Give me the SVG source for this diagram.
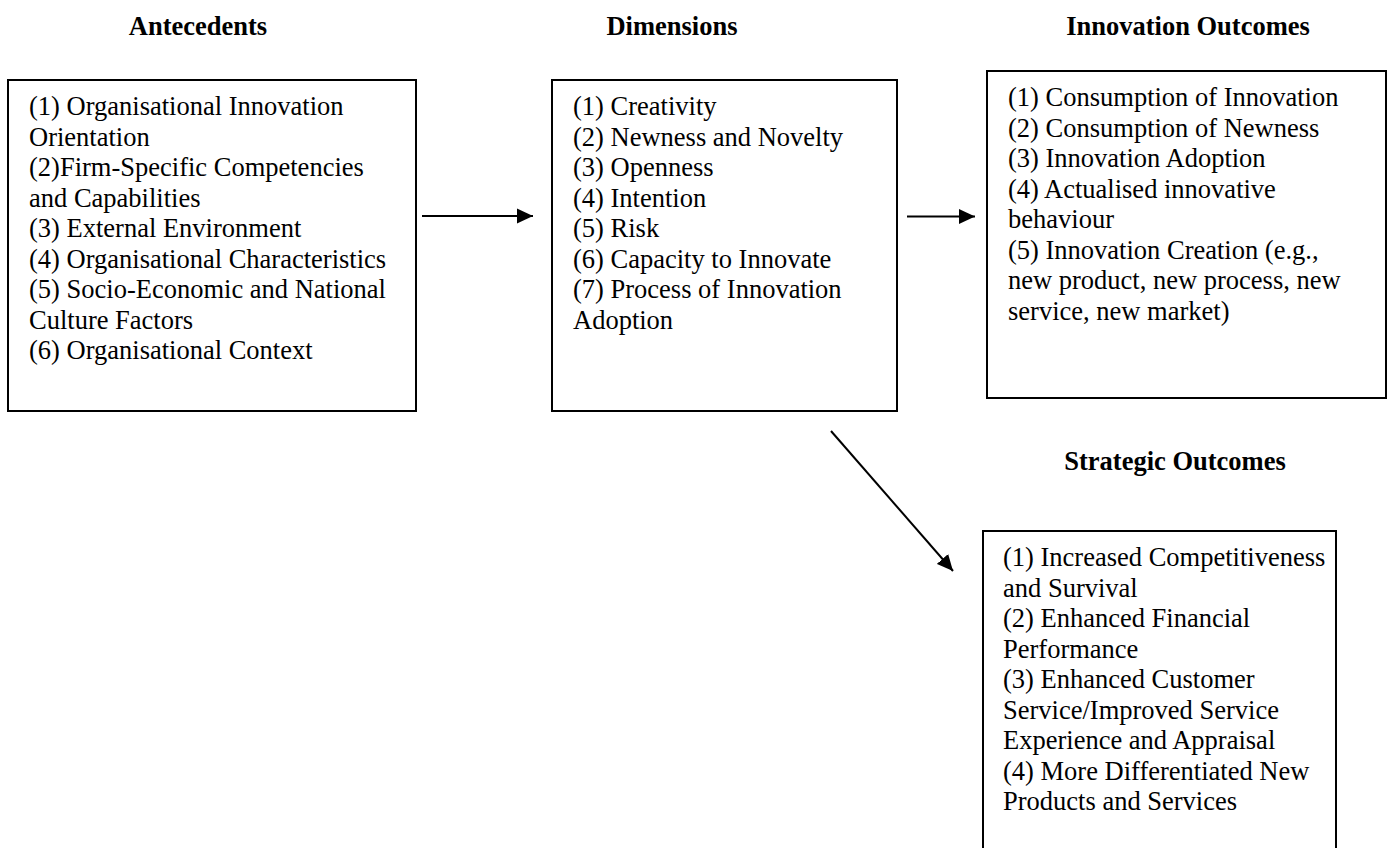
<svg xmlns="http://www.w3.org/2000/svg" width="1387" height="848" viewBox="0 0 1387 848">
<style>
.box{fill:#fff;stroke:#000;stroke-width:2}
.t{font-family:"Liberation Serif","Times New Roman",serif;font-size:26.5px;fill:#000}
.h{font-family:"Liberation Serif","Times New Roman",serif;font-size:26.5px;font-weight:bold;fill:#000;text-anchor:middle}
.c{stroke:#000;stroke-width:2;fill:none}
</style>
<defs>
<marker id="ah" markerWidth="16" markerHeight="16" refX="16" refY="8" orient="auto" markerUnits="userSpaceOnUse">
<path d="M0,0.5 L16,8 L0,15.5 Z" fill="#000"/>
</marker>
</defs>
<g id="titles">
<text class="h" x="198" y="35">Antecedents</text>
<text class="h" x="672" y="35">Dimensions</text>
<text class="h" x="1188" y="35">Innovation Outcomes</text>
<text class="h" x="1175" y="470">Strategic Outcomes</text>
</g>
<g id="antecedents">
<rect class="box" x="8" y="80" width="408" height="331"/>
<text class="t" x="29" y="115">
<tspan x="29" dy="0">(1) Organisational Innovation</tspan>
<tspan x="29" dy="30.5">Orientation</tspan>
<tspan x="29" dy="30.5">(2)Firm-Specific Competencies</tspan>
<tspan x="29" dy="30.5">and Capabilities</tspan>
<tspan x="29" dy="30.5">(3) External Environment</tspan>
<tspan x="29" dy="30.5">(4) Organisational Characteristics</tspan>
<tspan x="29" dy="30.5">(5) Socio-Economic and National</tspan>
<tspan x="29" dy="30.5">Culture Factors</tspan>
<tspan x="29" dy="30.5">(6) Organisational Context</tspan>
</text>
</g>
<g id="dimensions">
<rect class="box" x="552" y="80" width="345" height="331"/>
<text class="t" x="573" y="115">
<tspan x="573" dy="0">(1) Creativity</tspan>
<tspan x="573" dy="30.5">(2) Newness and Novelty</tspan>
<tspan x="573" dy="30.5">(3) Openness</tspan>
<tspan x="573" dy="30.5">(4) Intention</tspan>
<tspan x="573" dy="30.5">(5) Risk</tspan>
<tspan x="573" dy="30.5">(6) Capacity to Innovate</tspan>
<tspan x="573" dy="30.5">(7) Process of Innovation</tspan>
<tspan x="573" dy="30.5">Adoption</tspan>
</text>
</g>
<g id="innovation-outcomes">
<rect class="box" x="987" y="71" width="399" height="327"/>
<text class="t" x="1008" y="106">
<tspan x="1008" dy="0">(1) Consumption of Innovation</tspan>
<tspan x="1008" dy="30.5">(2) Consumption of Newness</tspan>
<tspan x="1008" dy="30.5">(3) Innovation Adoption</tspan>
<tspan x="1008" dy="30.5">(4) Actualised innovative</tspan>
<tspan x="1008" dy="30.5">behaviour</tspan>
<tspan x="1008" dy="30.5">(5) Innovation Creation (e.g.,</tspan>
<tspan x="1008" dy="30.5">new product, new process, new</tspan>
<tspan x="1008" dy="30.5">service, new market)</tspan>
</text>
</g>
<g id="strategic-outcomes">
<rect class="box" x="983" y="531" width="353" height="340"/>
<text class="t" x="1003" y="566">
<tspan x="1003" dy="0">(1) Increased Competitiveness</tspan>
<tspan x="1003" dy="30.5">and Survival</tspan>
<tspan x="1003" dy="30.5">(2) Enhanced Financial</tspan>
<tspan x="1003" dy="30.5">Performance</tspan>
<tspan x="1003" dy="30.5">(3) Enhanced Customer</tspan>
<tspan x="1003" dy="30.5">Service/Improved Service</tspan>
<tspan x="1003" dy="30.5">Experience and Appraisal</tspan>
<tspan x="1003" dy="30.5">(4) More Differentiated New</tspan>
<tspan x="1003" dy="30.5">Products and Services</tspan>
</text>
</g>
<g id="connectors">
<line class="c" x1="422" y1="216" x2="533" y2="216" marker-end="url(#ah)"/>
<line class="c" x1="907" y1="216.5" x2="975" y2="216.5" marker-end="url(#ah)"/>
<line class="c" x1="831" y1="431" x2="953" y2="571" marker-end="url(#ah)"/>
</g>
</svg>
